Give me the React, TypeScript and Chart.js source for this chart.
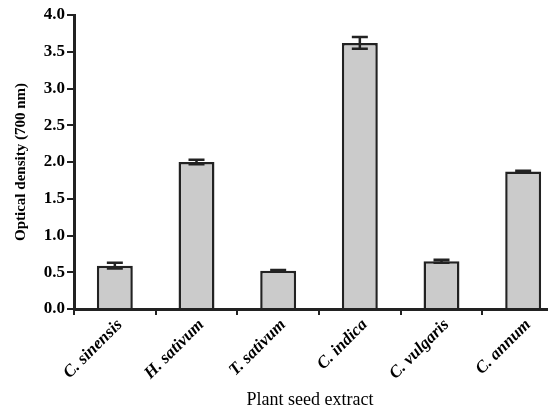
import React, { useEffect, useRef } from "react";
import { Chart, registerables } from "chart.js";

Chart.register(...registerables);

const categories = ["C. sinensis", "H. sativum", "T. sativum", "C. indica", "C. vulgaris", "C. annum"];
const densityValues = [0.59, 2.0, 0.52, 3.62, 0.65, 1.87];
const densityErrors = [0.04, 0.03, 0.01, 0.08, 0.02, 0.01];
const yTicks = [0, 0.5, 1, 1.5, 2, 2.5, 3, 3.5, 4];

const SERIF = "'Liberation Serif', 'Times New Roman', serif";
const INK = "#222222";

const errorBarPlugin = {
  id: "errorBars",
  afterDatasetsDraw(chart: any) {
    const meta = chart.getDatasetMeta(0);
    const yScale = chart.scales.y;
    const ctx = chart.ctx;
    ctx.save();
    ctx.strokeStyle = INK;
    ctx.lineWidth = 2.5;
    meta.data.forEach((bar: any, i: number) => {
      const v = densityValues[i];
      const e = densityErrors[i];
      const x = bar.x;
      const yt = yScale.getPixelForValue(v + e);
      const yb = yScale.getPixelForValue(v - e);
      const half = 8;
      ctx.beginPath();
      ctx.moveTo(x, yt);
      ctx.lineTo(x, yb);
      ctx.moveTo(x - half, yt);
      ctx.lineTo(x + half, yt);
      ctx.moveTo(x - half, yb);
      ctx.lineTo(x + half, yb);
      ctx.stroke();
    });
    ctx.restore();
  },
};

export default function App() {
  const ref = useRef<HTMLCanvasElement | null>(null);

  useEffect(() => {
    if (!ref.current) return;
    const chart = new Chart(ref.current, {
      type: "bar",
      data: {
        labels: categories,
        datasets: [
          {
            data: densityValues,
            backgroundColor: "#cbcbcb",
            borderColor: INK,
            borderWidth: 2.5,
            borderSkipped: "bottom",
            barPercentage: 0.44,
            categoryPercentage: 1,
          },
        ],
      },
      options: {
        animation: false,
        responsive: false,
        layout: { padding: { left: 0, right: 2, top: 7, bottom: 0 } },
        plugins: { legend: { display: false }, tooltip: { enabled: false } },
        scales: {
          x: {
            afterFit: (s: any) => {
              s.height = 103;
            },
            grid: {
              offset: true,
              drawOnChartArea: false,
              drawTicks: true,
              tickLength: 6,
              color: INK,
              lineWidth: 2,
            },
            border: { display: true, color: INK, width: 3 },
            ticks: {
              color: "#000",
              minRotation: 45,
              maxRotation: 45,
              padding: 0,
              labelOffset: 5,
              font: { family: SERIF, size: 17, style: "italic", weight: "bold" },
            },
            title: {
              display: true,
              text: "Plant seed extract\u00A0\u00A0\u00A0\u00A0",
              color: "#000",
              padding: { top: 2, bottom: 1 },
              font: { family: SERIF, size: 18 },
            },
          },
          y: {
            min: 0,
            max: 4,
            afterFit: (s: any) => {
              s.width = 66;
              s.paddingTop = 0;
              s.paddingBottom = 0;
            },
            afterBuildTicks: (s: any) => {
              s.ticks = yTicks.map((v) => ({ value: v }));
            },
            grid: {
              drawOnChartArea: false,
              drawTicks: true,
              tickLength: 7,
              color: INK,
              lineWidth: 2,
            },
            border: { display: true, color: INK, width: 3 },
            ticks: {
              color: "#000",
              padding: 2,
              font: { family: SERIF, size: 17, weight: "bold" },
              callback: (v: any) => Number(v).toFixed(1),
            },
            title: {
              display: true,
              text: "Optical density (700 nm)",
              color: "#000",
              font: { family: SERIF, size: 15, weight: "bold" },
            },
          },
        },
      },
      plugins: [errorBarPlugin],
    });
    return () => chart.destroy();
  }, []);

  return (
    <div style={{ width: 548, height: 404, overflow: "hidden" }}>
      <canvas ref={ref} width={558} height={404} style={{ display: "block" }} />
    </div>
  );
}
